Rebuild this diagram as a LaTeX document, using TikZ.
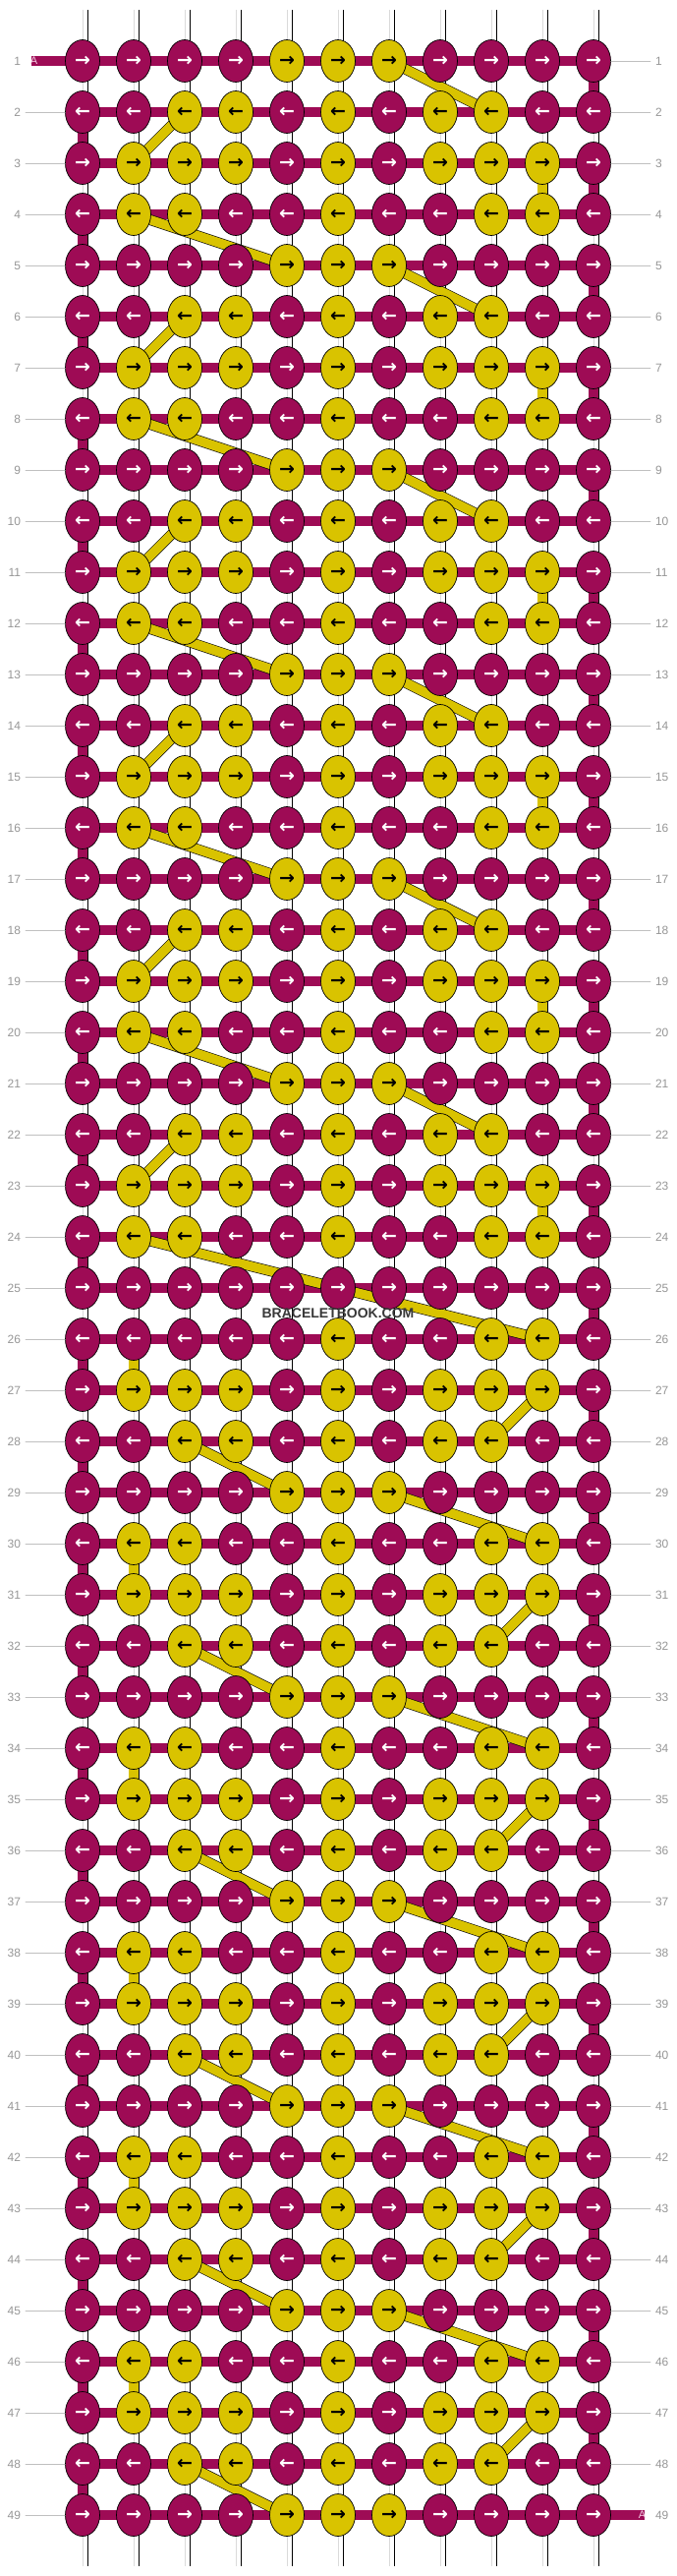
\documentclass[tikz,border=0pt]{standalone}
\usepackage{fontspec}
\setmainfont{Liberation Sans}
\newfontfamily\arrowfont{DejaVu Sans}
\usetikzlibrary{shapes.geometric}

\definecolor{bbMagenta}{RGB}{158,11,85}
\definecolor{bbYellow}{RGB}{217,195,0}
\definecolor{bbGrey}{RGB}{150,150,150}
\definecolor{bbPink}{RGB}{245,205,228}

\pgfdeclarelayer{strings}
\pgfdeclarelayer{bands}
\pgfdeclarelayer{yellowbands}
\pgfsetlayers{strings,bands,yellowbands,main}

% knot colours per row, left to right
\def\rowA{M,M,M,M,Y,Y,Y,M,M,M,M}
\def\rowB{M,M,Y,Y,M,Y,M,Y,Y,M,M}
\def\rowC{M,Y,Y,Y,M,Y,M,Y,Y,Y,M}
\def\rowD{M,Y,Y,M,M,Y,M,M,Y,Y,M}
\def\rowE{M,M,M,M,M,Y,M,M,Y,Y,M}
\def\rowZ{M,M,M,M,M,M,M,M,M,M,M}

\tikzset{
  knot/.style={ellipse,draw=black,line width=0.7pt,minimum width=35pt,minimum height=43pt,
    inner sep=0pt,font=\arrowfont\bfseries\fontsize{19}{19}\selectfont},
  whitestring/.style={line width=0.9pt,double=white,double distance=9.2pt},
  band/.style={line width=0.6pt,double=bbMagenta,double distance=9.4pt},
  yband/.style={line width=0.6pt,double=bbYellow,double distance=9.4pt},
  rowlabel/.style={text=bbGrey,font=\fontsize{12}{12}\selectfont,inner sep=0pt,outer sep=5pt},
  tick/.style={draw=bbGrey!60,line width=0.9pt},
  endlabel/.style={text=bbPink,font=\fontsize{11}{11}\selectfont,inner sep=0pt},
}

\begin{document}
\begin{tikzpicture}[x=1pt,y=-1pt,line cap=round]
  \useasboundingbox (0,0) rectangle (688,2620);

  % knots
  \foreach \r/\t in {1/A,2/B,3/C,4/D,5/A,6/B,7/C,8/D,9/A,10/B,11/C,12/D,13/A,14/B,15/C,16/D,
      17/A,18/B,19/C,20/D,21/A,22/B,23/C,24/D,25/Z,26/E,27/C,28/B,29/A,30/D,31/C,32/B,33/A,
      34/D,35/C,36/B,37/A,38/D,39/C,40/B,41/A,42/D,43/C,44/B,45/A,46/D,47/C,48/B,49/A} {
    \edef\thisrow{\csname row\t\endcsname}
    \foreach \k [count=\c] in \thisrow {
      \if\k Y\def\kfill{bbYellow}\def\ktext{black}\else\def\kfill{bbMagenta}\def\ktext{white}\fi
      \node[knot,fill=\kfill,text=\ktext] (k-\r-\c) at ({84+52*(\c-1)},{62+52*(\r-1)})
        {\ifodd\r\relax →\else ←\fi};
    }
  }

  % row numbers
  \foreach \r in {1,...,49} {
    \node[rowlabel,anchor=east] (ln-\r) at (26,{62+52*(\r-1)}) {\r};
    \node[rowlabel,anchor=west] (rn-\r) at (662,{62+52*(\r-1)}) {\r};
  }
  \foreach \r in {2,...,49} \draw[tick] (ln-\r) -- (k-\r-1);
  \foreach \r in {1,...,48} \draw[tick] (k-\r-11) -- (rn-\r);

  % start and end of the working string
  \coordinate (bandin) at (32,62);
  \coordinate (bandout) at (656,2558);
  \node[endlabel] (ain) at (34.5,62) {A};
  \node[endlabel] (aout) at (653.5,2558) {A};

  % vertical strings
  \begin{pgfonlayer}{strings}
    \foreach \c in {1,...,11} {
      \coordinate (st-\c) at ({84+52*(\c-1)},10.5);
      \coordinate (sb-\c) at ({84+52*(\c-1)},2609.5);
      \draw[whitestring] (st-\c) -- (sb-\c);
      \draw[bbGrey!35,line width=0.5pt] (st-\c) -- (sb-\c);
    }
  \end{pgfonlayer}

  % magenta string: rows and turns at the edges
  \begin{pgfonlayer}{bands}
    \foreach \r in {1,...,49} \draw[band] (k-\r-1.center) -- (k-\r-11.center);
    \draw[band] (bandin) -- (k-1-1.center);
    \draw[band] (k-49-11.center) -- (bandout);
    \foreach \r [evaluate=\r as \rn using int(\r+1)] in {1,3,...,47}
      \draw[band] (k-\r-11.center) -- (k-\rn-11.center);
    \foreach \r [evaluate=\r as \rn using int(\r+1)] in {2,4,...,48}
      \draw[band] (k-\r-1.center) -- (k-\rn-1.center);
  \end{pgfonlayer}

  % yellow strings
  \begin{pgfonlayer}{yellowbands}
    \foreach \r [evaluate=\r as \ra using int(\r+1),evaluate=\r as \rb using int(\r+2),
        evaluate=\r as \rc using int(\r+3),evaluate=\r as \rd using int(\r+4)] in {1,5,...,21} {
      \draw[yband] (k-\r-7.center) -- (k-\ra-9.center);
      \draw[yband] (k-\ra-3.center) -- (k-\rb-2.center);
      \draw[yband] (k-\rb-10.center) -- (k-\rc-10.center);
      \ifnum\r<21 \draw[yband] (k-\rc-2.center) -- (k-\rd-5.center);\fi
    }
    \draw[yband] (k-24-2.center) -- (k-26-10.center);
    \draw[yband] (k-26-2.center) -- (k-27-2.center);
    \foreach \r [evaluate=\r as \ra using int(\r+1),evaluate=\r as \rb using int(\r+2),
        evaluate=\r as \rc using int(\r+3),evaluate=\r as \rd using int(\r+4)] in {27,31,...,47} {
      \draw[yband] (k-\r-10.center) -- (k-\ra-9.center);
      \draw[yband] (k-\ra-3.center) -- (k-\rb-5.center);
      \ifnum\r<47
        \draw[yband] (k-\rb-7.center) -- (k-\rc-10.center);
        \draw[yband] (k-\rc-2.center) -- (k-\rd-2.center);
      \fi
    }
  \end{pgfonlayer}

  \node[font=\bfseries\fontsize{14}{14}\selectfont,text=black!78] (mark) at (344,1336) {BRACELETBOOK.COM};
\end{tikzpicture}
\end{document}
